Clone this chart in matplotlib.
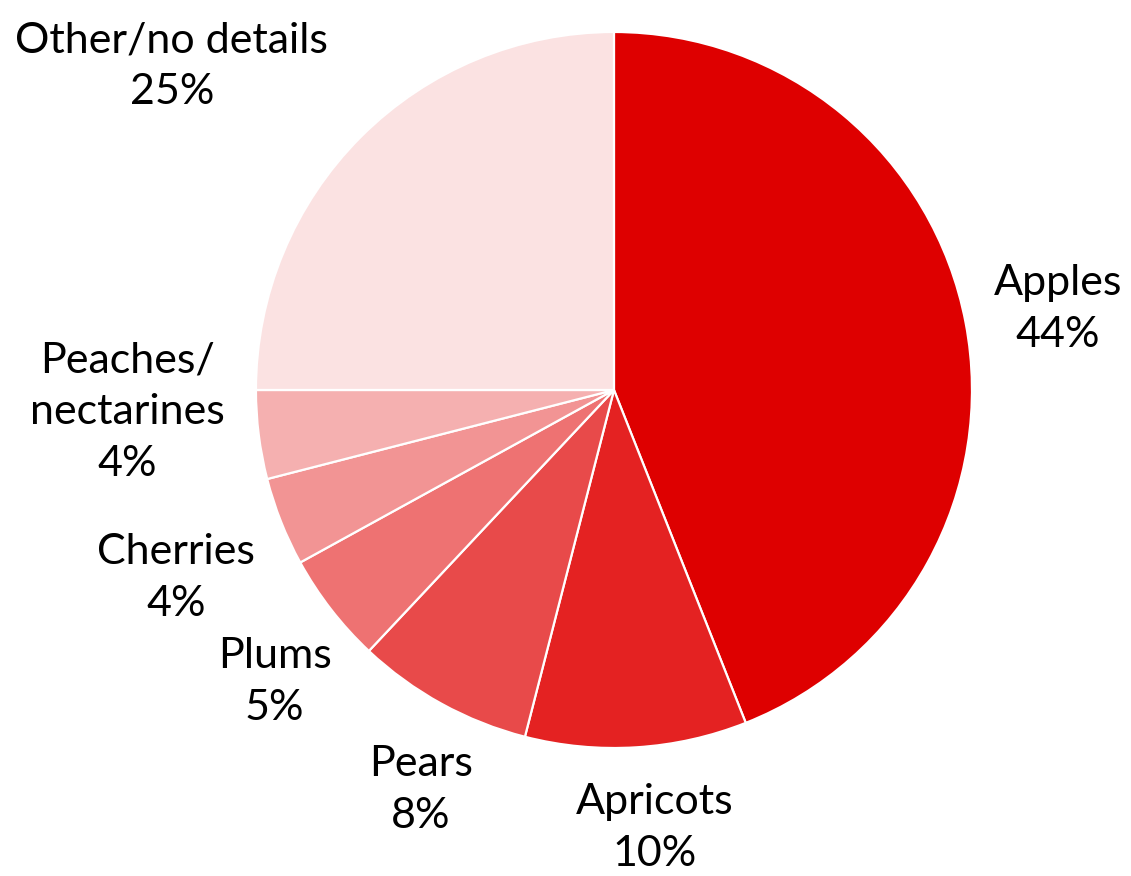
import matplotlib.pyplot as plt
import numpy as np

categories = ["Apples", "Apricots", "Pears", "Plums", "Cherries",
              "Peaches/\nnectarines", "Other/no details"]
shares = [44, 10, 8, 5, 4, 4, 25]
colors = ["#DE0000", "#E42222", "#E84A4A", "#EE7272", "#F29494",
          "#F5B0B0", "#FBE2E2"]
# label placement (radius as multiple of pie radius, angle shift in degrees)
label_r = [1.26, 1.23, 1.24, 1.25, 1.33, 1.36, 1.53]
label_shift = [-0.5, 1.7, 3.0, 2.9, 1.6, -4.6, 8.8]

plt.rcParams['font.family'] = ['Lato', 'DejaVu Sans']

fig = plt.figure(figsize=(11.31, 8.76), dpi=100)
ax = fig.add_axes([0.2263, 0.1461, 0.6331, 0.8174])

wedges, _ = ax.pie(shares, colors=colors, startangle=90, counterclock=False,
                   radius=1, wedgeprops=dict(edgecolor="white", linewidth=1.6))

for w, name, val, r, sh in zip(wedges, categories, shares, label_r, label_shift):
    mid = np.deg2rad((w.theta1 + w.theta2) / 2 + sh)
    ax.text(r * np.cos(mid), r * np.sin(mid), f"{name}\n{val}%",
            ha="center", va="center", fontsize=31, color="black",
            linespacing=1.45)

ax.set_xlim(-1, 1)
ax.set_ylim(-1, 1)
ax.set_aspect("equal")
ax.axis("off")

fig.savefig("out.png", dpi=100)
